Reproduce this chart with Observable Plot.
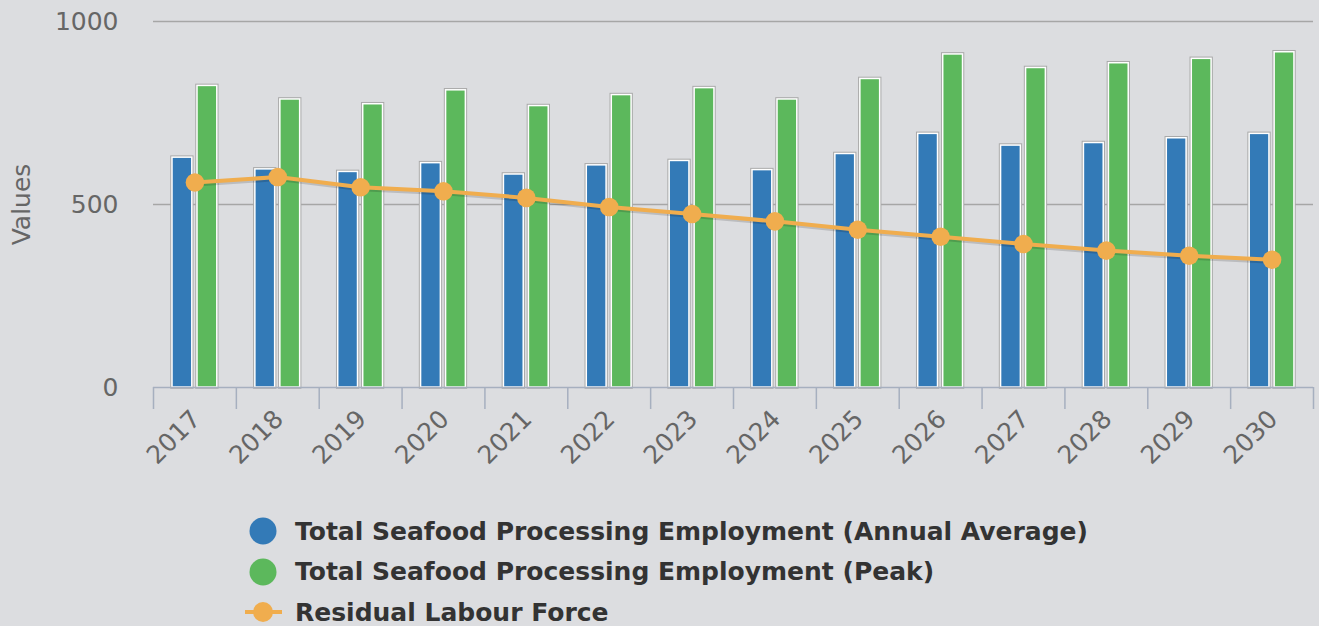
<!DOCTYPE html>
<html><head><meta charset="utf-8">
<script src="https://cdn.jsdelivr.net/npm/d3@7"></script>
<script src="https://cdn.jsdelivr.net/npm/@observablehq/plot@0.6"></script>
<style>
body{margin:0;background:#dcdde0;font-family:"DejaVu Sans",sans-serif;}
#legend{margin-top:31px;}
.row{display:flex;align-items:center;height:40.5px;}
.row svg{margin-left:244px;flex:none;}
.row span{margin-left:13px;font-weight:bold;font-size:25px;color:#333;white-space:nowrap;}
</style></head><body><div id="chart"></div><div id="legend"></div>
<script>
const years = [2017, 2018, 2019, 2020, 2021, 2022, 2023, 2024, 2025, 2026, 2027, 2028, 2029, 2030];
const annualAverage = [628, 596, 589, 613, 582, 607, 619, 594, 638, 693, 661, 668, 681, 693];
const peak = [824, 787, 774, 812, 769, 799, 818, 787, 843, 910, 873, 886, 898, 916];
const residual = [560, 575, 547, 536, 518, 493, 474, 454, 431, 412, 392, 374, 360, 349];
const yTicks = [0, 500, 1000];
const seriesNames = [
  "Total Seafood Processing Employment (Annual Average)",
  "Total Seafood Processing Employment (Peak)",
  "Residual Labour Force"
];
const seriesColors = ["#337ab7", "#5cb85c", "#f0ad4e"];

const rows = years.map((y, i) => ({year: y, avg: annualAverage[i], peak: peak[i], res: residual[i]}));

const W = 1319, H = 480, mL = 153, mR = 6, mT = 21, mB = 93;
const step = (W - mL - mR) / years.length;
const frameH = H - mT - mB;

const barStyle = (key, color, left, right) => [
  Plot.barY(rows, {x: "year", y: key, fill: "none", stroke: "#a9a9a9", strokeWidth: 3.5, insetLeft: left, insetRight: right}),
  Plot.barY(rows, {x: "year", y: key, fill: color, stroke: "#ffffff", strokeWidth: 1.5, insetLeft: left, insetRight: right})
];

const chart = Plot.plot({
  width: W, height: H,
  marginLeft: mL, marginRight: mR, marginTop: mT, marginBottom: mB,
  style: {background: "#dcdde0", fontFamily: "DejaVu Sans", overflow: "visible"},
  x: {type: "band", domain: years, padding: 0, round: false, axis: null},
  y: {domain: [0, 1000], axis: null},
  marks: [
    Plot.gridY(yTicks.filter(t => t > 0), {stroke: "#a6a6a6", strokeOpacity: 1, strokeWidth: 1.5}),
    ...barStyle("avg", seriesColors[0], 19, step - 38.8),
    ...barStyle("peak", seriesColors[1], 44, step - 63.8),
    Plot.ruleY([0], {stroke: "#a6afbf", strokeWidth: 1.5}),
    Plot.ruleX(years, {x: d => d, dx: -step / 2, stroke: "#a6afbf", strokeWidth: 1.5, insetTop: frameH, insetBottom: -22}),
    Plot.ruleX([years[years.length - 1]], {x: d => d, dx: step / 2, stroke: "#a6afbf", strokeWidth: 1.5, insetTop: frameH, insetBottom: -22}),
    Plot.axisY({ticks: yTicks, tickFormat: d => String(d), tickSize: 0, tickPadding: 35, fontSize: 25, fill: "#666", label: null}),
    Plot.text(["Values"], {frameAnchor: "left", textAnchor: "middle", dx: -132, rotate: -90, fontSize: 25, fill: "#666"}),
    Plot.text(years, {x: d => d, text: d => String(d), frameAnchor: "bottom", dx: 7, dy: 33, rotate: -45, textAnchor: "end", fontSize: 25, fill: "#666"}),
    Plot.line(rows, {x: "year", y: "res", stroke: "#000", strokeOpacity: 0.15, strokeWidth: 5, dx: 1, dy: 1.5}),
    Plot.line(rows, {x: "year", y: "res", stroke: seriesColors[2], strokeWidth: 4}),
    Plot.dot(rows, {x: "year", y: "res", r: 9.3, fill: seriesColors[2], stroke: "none"})
  ]
});
document.getElementById("chart").append(chart);

const legend = document.getElementById("legend");
seriesNames.forEach((name, i) => {
  const row = document.createElement("div");
  row.className = "row";
  const sw = i < 2
    ? `<svg width="38" height="30"><circle cx="19" cy="15" r="13.5" fill="${seriesColors[i]}"/></svg>`
    : `<svg width="38" height="30"><line x1="1" x2="38" y1="15" y2="15" stroke="${seriesColors[i]}" stroke-width="4"/><circle cx="19" cy="15" r="10" fill="${seriesColors[i]}"/></svg>`;
  row.innerHTML = sw + `<span>${name}</span>`;
  legend.append(row);
});
</script>
</body></html>
